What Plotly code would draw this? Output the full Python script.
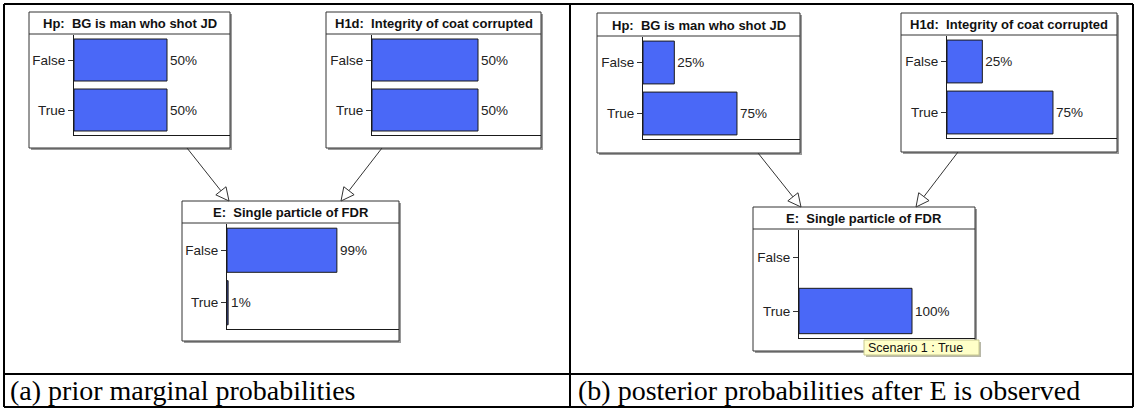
import math
import plotly.graph_objects as go

# ---------------- data ----------------
states = ["False", "True"]
node_titles = [
    "Hp:\u00a0 BG is man who shot JD",
    "H1d:\u00a0 Integrity of coat corrupted",
    "E:\u00a0 Single particle of FDR",
]
prior_hp = [50, 50]
prior_h1d = [50, 50]
prior_e = [99, 1]
post_hp = [25, 75]
post_h1d = [25, 75]
post_e = [0, 100]
captions = ["(a) prior marginal probabilities",
            "(b) posterior probabilities after E is observed"]
tooltip_text = "Scenario 1 : True"

series = [prior_hp, prior_h1d, prior_e, post_hp, post_h1d, post_e]
titles = [node_titles[0], node_titles[1], node_titles[2],
          node_titles[0], node_titles[1], node_titles[2]]

# ---------------- layout (pixels) ----------------
W, H = 1136, 409


def X(p):
    return p / W


def Y(p):
    return 1 - p / H


# box (x0, x1, y0, y1), title separator y, axis x, plot bottom y, pixels per 100 %
node_layout = [
    dict(box=(29, 230, 12, 148), sep=34, ax=74, pb=135, px100=186),
    dict(box=(326, 541, 12, 148), sep=34, ax=372, pb=135, px100=212),
    dict(box=(182, 399, 201, 341), sep=223, ax=227, pb=329, px100=111),
    dict(box=(597, 800, 13, 153), sep=36, ax=643, pb=139, px100=125.3),
    dict(box=(901, 1117, 13, 152), sep=35, ax=947, pb=138, px100=141.3),
    dict(box=(753, 975, 207, 351), sep=229, ax=799, pb=338, px100=113),
]

arrows = [((187, 148), (229, 201)), ((382, 148), (341, 201)),
          ((758, 153), (801, 207)), ((958, 152), (916, 207))]

BLUE = "rgb(74,104,247)"
SANS = "Liberation Sans, Arial, sans-serif"
SERIF = "Liberation Serif, Times New Roman, serif"
INK = "#222222"

fig = go.Figure()
shapes = []
annotations = []
layout_axes = {}


def rect(x0, y0, x1, y1, **kw):
    d = dict(type="rect", xref="paper", yref="paper",
             x0=X(x0), x1=X(x1), y0=Y(y1), y1=Y(y0), layer="below")
    d.update(kw)
    return d


def line(x0, y0, x1, y1, color="#000", width=1, layer="below"):
    return dict(type="line", xref="paper", yref="paper",
                x0=X(x0), y0=Y(y0), x1=X(x1), y1=Y(y1),
                line=dict(color=color, width=width), layer=layer)


for i, (vals, title, nl) in enumerate(zip(series, titles, node_layout)):
    bx0, bx1, by0, by1 = nl["box"]
    # shadow + box
    shapes.append(rect(bx0 + 2, by0 + 2, bx1 + 2, by1 + 2,
                       fillcolor="#9a9a9a", line=dict(width=0)))
    shapes.append(rect(bx0, by0, bx1, by1, fillcolor="white",
                       line=dict(color="#333333", width=1)))
    shapes.append(line(bx0, nl["sep"], bx1, nl["sep"], color="#333333"))
    annotations.append(dict(
        x=X((bx0 + bx1) / 2), y=Y((by0 + nl["sep"]) / 2 + 0.5),
        xref="paper", yref="paper", text="<b>" + title + "</b>",
        showarrow=False, xanchor="center", yanchor="middle",
        font=dict(family=SANS, size=13, color="#111111")))

    suffix = "" if i == 0 else str(i + 1)
    xname, yname = "x" + suffix, "y" + suffix
    rng = (bx1 - nl["ax"]) / nl["px100"] * 100
    fig.add_trace(go.Bar(
        y=states, x=vals, orientation="h",
        text=[f"{v}%" if v > 0 else "" for v in vals],
        textposition="outside", cliponaxis=False, constraintext="none",
        textfont=dict(family=SANS, size=13.5, color=INK),
        marker=dict(color=BLUE,
                    line=dict(color="#1a1a1a",
                              width=[1 if v > 0 else 0 for v in vals])),
        xaxis=xname, yaxis=yname, hoverinfo="skip", showlegend=False))
    layout_axes["xaxis" + suffix] = dict(
        domain=[X(nl["ax"]), X(bx1)], anchor=yname, range=[0, rng],
        showline=True, linecolor="#1a1a1a", linewidth=1, showgrid=False,
        zeroline=False, showticklabels=False, ticks="", fixedrange=True)
    layout_axes["yaxis" + suffix] = dict(
        domain=[Y(nl["pb"]), Y(nl["sep"] + 1)], anchor=xname,
        type="category", categoryorder="array", categoryarray=states,
        autorange="reversed", showline=True, linecolor="#1a1a1a",
        linewidth=1, showgrid=False, zeroline=False, ticks="outside",
        ticklen=5, tickcolor="#333333", tickwidth=1,
        tickfont=dict(family=SANS, size=13.5, color=INK), fixedrange=True)

# arrows with hollow triangle heads
L_HEAD, W_HEAD = 13, 6.5
for (sx, sy), (tx, ty) in arrows:
    dx, dy = tx - sx, ty - sy
    n = math.hypot(dx, dy)
    ux, uy = dx / n, dy / n
    bxp, byp = tx - L_HEAD * ux, ty - L_HEAD * uy
    px_, py_ = -uy, ux
    shapes.append(line(sx, sy, bxp, byp, color="#333333", layer="above"))
    p1 = (bxp + W_HEAD * px_, byp + W_HEAD * py_)
    p2 = (bxp - W_HEAD * px_, byp - W_HEAD * py_)
    path = (f"M {X(tx)},{Y(ty)} L {X(p1[0])},{Y(p1[1])} "
            f"L {X(p2[0])},{Y(p2[1])} Z")
    shapes.append(dict(type="path", xref="paper", yref="paper", path=path,
                       fillcolor="white", line=dict(color="#333333", width=1),
                       layer="above"))

# tooltip
shapes.append(rect(866, 342, 981, 357, fillcolor="#b8b8a8", line=dict(width=0),
                   layer="above"))
shapes.append(rect(864, 340, 979, 355, fillcolor="#ffffc8",
                   line=dict(color="#c8c890", width=1), layer="above"))
annotations.append(dict(x=X(866), y=Y(347.5), xref="paper", yref="paper",
                        text=tooltip_text, showarrow=False, xanchor="left",
                        yanchor="middle",
                        font=dict(family=SANS, size=12.5, color="#111111")))

# outer table lines
for seg in [(4, 4, 1133, 4), (4, 374, 1133, 374), (4, 407, 1133, 407),
            (4, 4, 4, 407), (570, 4, 570, 407), (1133, 4, 1133, 407)]:
    shapes.append(line(*seg, color="#000000", width=2, layer="above"))

# captions
for cx, txt in zip([8, 576], captions):
    annotations.append(dict(x=X(cx), y=Y(390), xref="paper", yref="paper",
                            text=txt, showarrow=False, xanchor="left",
                            yanchor="middle",
                            font=dict(family=SERIF, size=28, color="#000000")))

fig.update_layout(
    width=W, height=H, margin=dict(l=0, r=0, t=0, b=0),
    paper_bgcolor="white", plot_bgcolor="rgba(0,0,0,0)",
    template="none", bargap=0.16, showlegend=False,
    shapes=shapes, annotations=annotations, **layout_axes)

fig.write_html("out.html",
               config={"displayModeBar": False, "staticPlot": True},
               post_script="document.body.style.margin='0';"
                           "document.body.style.padding='0';")
